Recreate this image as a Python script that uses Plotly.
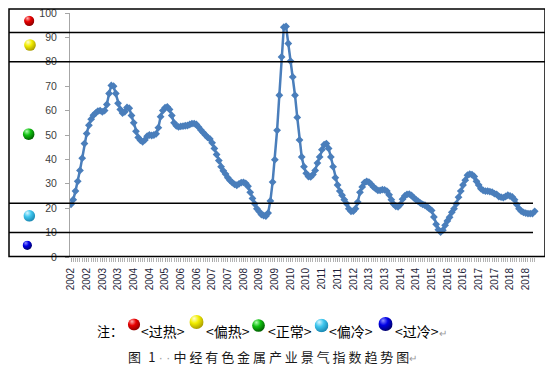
import base64
import plotly.graph_objects as go

# ---- data ----
index_values = [
    21.6, 23.5, 27.0, 31.0, 35.5, 40.5, 46.5, 50.6, 54.0, 56.5,
    58.1, 59.0, 59.8, 60.0, 59.5, 60.0, 62.5, 67.0, 70.3, 70.0,
    67.0, 63.0, 60.5, 59.0, 59.5, 61.3, 61.0, 58.0, 55.0, 51.5,
    49.0, 47.8, 47.2, 48.0, 49.5, 50.0, 49.8, 50.0, 50.5, 53.0,
    57.5, 60.0, 61.2, 61.5, 60.5, 58.0, 55.0, 53.8, 53.3, 53.5,
    53.6, 53.8, 53.9, 54.3, 54.7, 54.7, 54.3, 53.2, 52.0, 51.0,
    50.0, 49.0, 48.4, 46.8, 44.5, 42.0, 39.5, 37.0, 35.3, 34.0,
    32.5, 31.4, 30.5, 29.8, 29.4, 30.0, 30.5, 30.6, 30.2, 29.0,
    26.5, 24.0, 21.8, 19.8, 18.6, 17.4, 17.0, 16.8, 18.0, 23.0,
    30.7, 39.9, 51.9, 66.3, 82.0, 94.2, 94.5, 87.5, 80.3, 73.8,
    66.3, 57.2, 48.0, 41.0, 37.0, 34.3, 33.0, 32.8, 33.8, 35.5,
    38.5, 41.0, 44.0, 46.0, 46.5, 44.5, 41.0, 37.0, 32.5, 29.5,
    27.0, 25.3, 23.5, 21.9, 19.8, 18.7, 18.8, 19.8, 22.5, 26.5,
    28.7, 30.5, 31.0, 30.7, 29.8, 28.7, 28.0, 27.3, 27.3, 27.6,
    27.5, 27.0, 25.5, 23.5, 21.7, 20.8, 20.6, 21.5, 23.7, 25.0,
    25.7, 25.8, 25.2, 24.3, 23.5, 22.8, 22.1, 21.6, 21.2, 20.6,
    19.8, 19.1, 16.4, 13.4, 11.2, 10.2, 11.0, 13.0, 14.8, 16.3,
    18.3, 19.8, 21.8, 24.5, 27.0, 29.5, 31.5, 33.5, 34.0, 33.8,
    33.0, 31.0, 29.5, 28.0, 27.3, 27.0, 27.0, 26.8, 26.6, 26.0,
    25.7, 24.8, 24.5, 24.3, 24.8, 25.3, 25.0, 24.6, 23.5, 21.5,
    19.8, 18.8, 18.3, 18.0, 17.8, 17.8, 17.8, 18.7,
]
month_index = list(range(len(index_values)))
tick_positions = list(range(0, len(index_values), 7))
tick_years = ["2002", "2002", "2003", "2003", "2004", "2004", "2005", "2006",
              "2006", "2007", "2007", "2008", "2009", "2009", "2010", "2010",
              "2011", "2011", "2012", "2013", "2013", "2014", "2014", "2015",
              "2016", "2016", "2017", "2017", "2018", "2018"]
y_ticks = list(range(0, 101, 10))
full_bounds = [92, 80]      # zone lines across the whole box
inner_bounds = [22, 10]     # zone lines ending at the data area
zone_labels = ["<过热>", "<偏热>", "<正常>", "<偏冷>", "<过冷>"]

# ---- geometry (page body has an 8px margin; work in screen pixels) ----
OFF = 8
W, H = 545, 370
ML, MR, MT, MB = 62, 8, 5, 121
PW, PH = W - ML - MR, H - MT - MB


def px(x):
    return (x - OFF - ML) / PW


def py(y):
    return (OFF + MT + PH - y) / PH


def ball(base, dark, light):
    svg = (
        '<svg xmlns="http://www.w3.org/2000/svg" width="40" height="40" viewBox="0 0 40 40">'
        '<defs><radialGradient id="g" cx="0.38" cy="0.32" r="0.7" fx="0.33" fy="0.25">'
        f'<stop offset="0" stop-color="{light}"/>'
        f'<stop offset="0.45" stop-color="{base}"/>'
        f'<stop offset="1" stop-color="{dark}"/>'
        '</radialGradient></defs>'
        '<circle cx="20" cy="20" r="19.5" fill="url(#g)"/></svg>'
    )
    return "data:image/svg+xml;base64," + base64.b64encode(svg.encode()).decode()


balls = [
    ball("#E80000", "#8A0000", "#FFB0B0"),
    ball("#F2EE00", "#A89A00", "#FFFFD0"),
    ball("#10C010", "#005C00", "#B0FFB0"),
    ball("#3EC6EE", "#1A86B0", "#D8F6FF"),
    ball("#0000E6", "#00006A", "#9090FF"),
]

fig = go.Figure()
fig.add_trace(go.Scatter(
    x=month_index, y=index_values, mode="lines+markers",
    line=dict(color="#4A7EBB", width=2.5),
    marker=dict(symbol="diamond", size=6, color="#4A7EBB"),
    showlegend=False, hoverinfo="skip",
))

shapes = []
shapes.append(dict(type="rect", xref="paper", yref="paper",
                   x0=px(9), x1=px(545), y0=py(256.5), y1=py(9),
                   line=dict(color="#000000", width=1.5), fillcolor="rgba(0,0,0,0)"))
for b in full_bounds:
    shapes.append(dict(type="line", xref="paper", yref="paper",
                       x0=px(9), x1=px(545), y0=b / 100, y1=b / 100,
                       line=dict(color="#000000", width=1.5)))
for b in inner_bounds:
    shapes.append(dict(type="line", xref="paper", yref="paper",
                       x0=px(9), x1=px(533), y0=b / 100, y1=b / 100,
                       line=dict(color="#000000", width=1.5)))

images = []
left_balls = [(29.2, 20.8, 10.5), (30, 45, 12), (28.7, 134.2, 12), (29.3, 215.8, 12), (27.3, 245.3, 9.5)]
for src, (cx, cy, d) in zip(balls, left_balls):
    images.append(dict(source=src, xref="paper", yref="paper", x=px(cx), y=py(cy),
                       sizex=d / PW, sizey=d / PH, xanchor="center", yanchor="middle",
                       sizing="contain", layer="above"))
bottom_balls = [(134, 324.5, 12.5), (196.5, 322, 14.5), (258.5, 325.5, 13), (321.5, 325.5, 14), (385.5, 324, 14.5)]
for src, (cx, cy, d) in zip(balls, bottom_balls):
    images.append(dict(source=src, xref="paper", yref="paper", x=px(cx), y=py(cy),
                       sizex=d / PW, sizey=d / PH, xanchor="center", yanchor="middle",
                       sizing="contain", layer="above"))

cjk = "Noto Sans CJK SC"
annotations = [dict(text="注：", x=px(95), y=py(330.5), xref="paper", yref="paper",
                    xanchor="left", yanchor="middle", showarrow=False,
                    font=dict(family=cjk, size=13, color="#000000"))]
label_x = [139, 204, 266, 327, 393]
for i, (lab, lx) in enumerate(zip(zone_labels, label_x)):
    t = lab
    if i == len(zone_labels) - 1:
        t = lab + "<span style='color:#9A9A9A;font-size:10px'>↵</span>"
    annotations.append(dict(text=t, x=px(lx), y=py(330.5), xref="paper", yref="paper",
                            xanchor="left", yanchor="middle", showarrow=False,
                            font=dict(family=cjk, size=14, color="#000000")))
title_chars = "中经有色金属产业景气指数趋势图"
title_text = ("图<span style='font-family:Liberation Sans'>  </span>1"
              "<span style='color:#9A9A9A;font-family:Liberation Sans;font-size:12px'> · · </span>"
              + " ".join(title_chars)
              + "<span style='color:#9A9A9A;font-size:10px'>↵</span>")
annotations.append(dict(text=title_text, x=px(126), y=py(356.5), xref="paper", yref="paper",
                        xanchor="left", yanchor="middle", showarrow=False,
                        font=dict(family=cjk, size=13, color="#1A1A1A")))

fig.update_layout(
    width=W, height=H,
    margin=dict(l=ML, r=MR, t=MT, b=MB, pad=0, autoexpand=False),
    paper_bgcolor="white", plot_bgcolor="white",
    showlegend=False,
    shapes=shapes, images=images, annotations=annotations,
    xaxis=dict(
        range=[-0.446, 211.6], tickmode="array", tickvals=tick_positions, ticktext=tick_years,
        tickangle=-90, ticks="outside", ticklen=4, tickcolor="#A6A6A6",
        tickfont=dict(family="Liberation Sans, Arial", size=10, color="#1F1F3A"),
        showgrid=False, zeroline=False, showline=False, ticklabelstandoff=2,
        ticklabeloverflow="allow",
        minor=dict(tickmode="array", tickvals=month_index, ticks="outside", ticklen=4,
                   tickcolor="#B4B4B4", showgrid=False),
    ),
    yaxis=dict(
        range=[0, 100], tickmode="array", tickvals=y_ticks,
        ticks="outside", ticklen=4, tickcolor="#A6A6A6",
        showline=True, linecolor="#A6A6A6", linewidth=1,
        showgrid=False, zeroline=False, ticklabelstandoff=6,
        ticklabeloverflow="allow",
        tickfont=dict(family="Liberation Sans, Arial", size=10.5, color="#404040"),
    ),
)

fig.write_html("out.html")
